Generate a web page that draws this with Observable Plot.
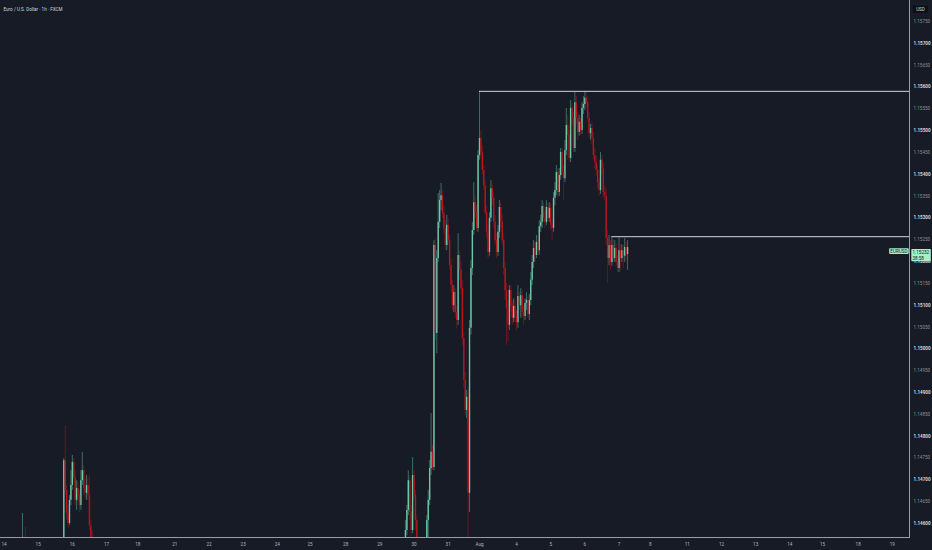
<!DOCTYPE html>
<html>
<head>
<meta charset="utf-8">
<script src="https://cdn.jsdelivr.net/npm/d3@7"></script>
<script src="https://cdn.jsdelivr.net/npm/@observablehq/plot@0.6"></script>
<style>
  html, body { margin: 0; padding: 0; background: #171b26; }
  #chart { width: 932px; height: 550px; overflow: hidden; }
</style>
</head>
<body>
<div id="chart"></div>
<script>
// EUR/USD 1h candles. x is the bar index in hours from Mon Jul 14 00:00 (weekend gaps squeezed out)
const title = "Euro / U.S. Dollar · 1h · FXCM";
const dayTicks = [0, 24, 48, 72, 94, 120, 144, 168, 192, 215, 240, 264, 288, 312, 334, 360, 384, 408, 432, 454, 480, 504, 528, 552, 575, 600, 624];
const dayLabels = ["14", "15", "16", "17", "18", "21", "22", "23", "24", "25", "28", "29", "30", "31", "Aug", "4", "5", "6", "7", "8", "11", "12", "13", "14", "15", "18", "19"];
const priceMajor = [1.146, 1.147, 1.148, 1.149, 1.150, 1.151, 1.152, 1.153, 1.154, 1.155, 1.156, 1.157];
const priceMinor = [1.1465, 1.1475, 1.1485, 1.1495, 1.1505, 1.1515, 1.1525, 1.1535, 1.1545, 1.1555, 1.1565, 1.1575];

// Jul 14 (only the tops of a couple of wicks show)
const jul14Start = 13, jul14Open = 1.14540;
const jul14Close = [1.14560, 1.14545, 1.14530];
const jul14High = [1.14623, 1.14555, 1.14591];
const jul14Low = [1.14500, 1.14520, 1.14510];

// Jul 15 evening - Jul 16
const jul15Start = 42, jul15Open = 1.14550;
const jul15Close = [1.14744, 1.14676, 1.14623, 1.14600, 1.14653, 1.14687, 1.14740, 1.14705, 1.14653, 1.14680, 1.14664, 1.14641, 1.14698, 1.14721, 1.14680, 1.14669, 1.14687, 1.14664, 1.14595, 1.14568, 1.14550, 1.14527];
const jul15High = [1.14749, 1.14824, 1.14687, 1.14641, 1.14664, 1.14721, 1.14756, 1.14749, 1.14721, 1.14698, 1.14694, 1.14676, 1.14721, 1.14763, 1.14733, 1.14703, 1.14710, 1.14703, 1.14710, 1.14607, 1.14584, 1.14568];
const jul15Low = [1.14550, 1.14664, 1.14607, 1.14589, 1.14595, 1.14641, 1.14676, 1.14694, 1.14641, 1.14630, 1.14648, 1.14625, 1.14630, 1.14687, 1.14664, 1.14657, 1.14653, 1.14653, 1.14584, 1.14550, 1.14527, 1.14515];

// Jul 29 late - Aug 7
const aug1Start = 282, aug1Open = 1.14550;
const aug1Close = [
  1.14584, 1.14630, 1.14698, 1.14625, 1.14584, 1.14710, 1.14664, 1.14607, 1.14550, 1.14515,
  1.14504, 1.14527, 1.14515, 1.14538, 1.14550, 1.14607, 1.14653, 1.14726, 1.14763, 1.14728,
  1.15237, 1.15035, 1.15207, 1.15290, 1.15340, 1.15351, 1.15310, 1.15276, 1.15237, 1.15283,
  1.15248, 1.15191, 1.15145, 1.15099, 1.15129, 1.15083, 1.15065, 1.15214, 1.15180, 1.15138,
  1.15024, 1.14928, 1.14859, 1.14889, 1.14669, 1.15047, 1.15184, 1.15271, 1.15335, 1.15312,
  1.15276, 1.15443, 1.15482, 1.15450, 1.15409, 1.15374, 1.15312, 1.15267, 1.15221, 1.15299,
  1.15367, 1.15345, 1.15290, 1.15248, 1.15221, 1.15267, 1.15324, 1.15290, 1.15248, 1.15184,
  1.15134, 1.15093, 1.15054, 1.15134, 1.15099, 1.15070, 1.15097, 1.15076, 1.15060, 1.15120,
  1.15099, 1.15122, 1.15083, 1.15074, 1.15104, 1.15111, 1.15079, 1.15111, 1.15157, 1.15198,
  1.15230, 1.15214, 1.15244, 1.15225, 1.15280, 1.15290, 1.15326, 1.15299, 1.15290, 1.15324,
  1.15299, 1.15322, 1.15283, 1.15276, 1.15345, 1.15363, 1.15404, 1.15358, 1.15397, 1.15450,
  1.15404, 1.15390, 1.15454, 1.15512, 1.15489, 1.15436, 1.15551, 1.15528, 1.15459, 1.15564,
  1.15528, 1.15496, 1.15519, 1.15500, 1.15551, 1.15560, 1.15574, 1.15564, 1.15528, 1.15493,
  1.15505, 1.15482, 1.15443, 1.15427, 1.15409, 1.15381, 1.15363, 1.15432, 1.15413, 1.15358,
  1.15351, 1.15253, 1.15207, 1.15237, 1.15198, 1.15237, 1.15207, 1.15230, 1.15198, 1.15184,
  1.15225, 1.15207, 1.15225, 1.15212, 1.15232, 1.15216, 1.15232
];
const aug1High = [
  1.14607, 1.14641, 1.14721, 1.14710, 1.14641, 1.14751, 1.14721, 1.14676, 1.14618, 1.14566,
  1.14550, 1.14538, 1.14538, 1.14550, 1.14566, 1.14618, 1.14676, 1.14744, 1.14852, 1.14779,
  1.15248, 1.15253, 1.15225, 1.15356, 1.15363, 1.15379, 1.15363, 1.15328, 1.15294, 1.15306,
  1.15299, 1.15260, 1.15207, 1.15157, 1.15145, 1.15138, 1.15099, 1.15264, 1.15225, 1.15198,
  1.15157, 1.15038, 1.14946, 1.14905, 1.14911, 1.15065, 1.15202, 1.15290, 1.15381, 1.15351,
  1.15328, 1.15454, 1.15590, 1.15500, 1.15466, 1.15420, 1.15386, 1.15328, 1.15283, 1.15312,
  1.15386, 1.15379, 1.15358, 1.15306, 1.15264, 1.15283, 1.15340, 1.15335, 1.15306, 1.15264,
  1.15198, 1.15150, 1.15111, 1.15145, 1.15145, 1.15111, 1.15115, 1.15111, 1.15088, 1.15145,
  1.15129, 1.15138, 1.15134, 1.15099, 1.15115, 1.15129, 1.15120, 1.15125, 1.15175, 1.15214,
  1.15248, 1.15244, 1.15260, 1.15257, 1.15294, 1.15306, 1.15340, 1.15335, 1.15317, 1.15340,
  1.15333, 1.15335, 1.15333, 1.15299, 1.15358, 1.15381, 1.15420, 1.15413, 1.15413, 1.15459,
  1.15459, 1.15420, 1.15477, 1.15551, 1.15535, 1.15500, 1.15569, 1.15562, 1.15542, 1.15587,
  1.15578, 1.15542, 1.15535, 1.15528, 1.15564, 1.15578, 1.15590, 1.15587, 1.15578, 1.15542,
  1.15514, 1.15519, 1.15496, 1.15459, 1.15441, 1.15420, 1.15390, 1.15450, 1.15443, 1.15427,
  1.15374, 1.15367, 1.15271, 1.15260, 1.15248, 1.15257, 1.15248, 1.15248, 1.15241, 1.15214,
  1.15255, 1.15237, 1.15239, 1.15237, 1.15253, 1.15244, 1.15248
];
const aug1Low = [
  1.14538, 1.14572, 1.14618, 1.14607, 1.14572, 1.14577, 1.14653, 1.14584, 1.14538, 1.14492,
  1.14481, 1.14492, 1.14504, 1.14504, 1.14527, 1.14538, 1.14561, 1.14641, 1.14710, 1.14721,
  1.14721, 1.15019, 1.14989, 1.15198, 1.15276, 1.15317, 1.15299, 1.15264, 1.15225, 1.15225,
  1.15237, 1.15180, 1.15129, 1.15088, 1.15083, 1.15070, 1.15047, 1.15054, 1.15157, 1.15122,
  1.15008, 1.14909, 1.14847, 1.14840, 1.14550, 1.14625, 1.15031, 1.15168, 1.15260, 1.15299,
  1.15267, 1.15267, 1.15432, 1.15436, 1.15397, 1.15363, 1.15306, 1.15253, 1.15207, 1.15212,
  1.15290, 1.15328, 1.15276, 1.15237, 1.15207, 1.15212, 1.15253, 1.15276, 1.15237, 1.15168,
  1.15111, 1.15008, 1.15015, 1.15042, 1.15083, 1.15054, 1.15060, 1.15060, 1.15042, 1.15047,
  1.15088, 1.15070, 1.15070, 1.15054, 1.15065, 1.15088, 1.15070, 1.15065, 1.15099, 1.15145,
  1.15184, 1.15198, 1.15207, 1.15214, 1.15214, 1.15267, 1.15276, 1.15290, 1.15276, 1.15283,
  1.15290, 1.15290, 1.15271, 1.15248, 1.15267, 1.15328, 1.15351, 1.15345, 1.15349, 1.15386,
  1.15390, 1.15340, 1.15381, 1.15443, 1.15432, 1.15427, 1.15427, 1.15512, 1.15450, 1.15450,
  1.15514, 1.15477, 1.15487, 1.15489, 1.15491, 1.15537, 1.15546, 1.15551, 1.15519, 1.15482,
  1.15477, 1.15466, 1.15432, 1.15413, 1.15395, 1.15367, 1.15349, 1.15354, 1.15397, 1.15345,
  1.15340, 1.15237, 1.15150, 1.15191, 1.15180, 1.15189, 1.15198, 1.15198, 1.15189, 1.15175,
  1.15175, 1.15180, 1.15198, 1.15184, 1.15198, 1.15202, 1.15180
];

// horizontal levels drawn on the chart, and the bar they start from
const levelPrices = [1.15590, 1.15257];
const levelFrom = [334, 427];

const symbol = "EURUSD";
const lastPrice = 1.15232;
const countdown = "38:58";

function makeBars(start, open, closes, highs, lows) {
  let o = open;
  return closes.map((c, k) => {
    const bar = {i: start + k, open: o, close: c, high: highs[k], low: lows[k]};
    o = c;
    return bar;
  });
}

const bars = [
  ...makeBars(jul14Start, jul14Open, jul14Close, jul14High, jul14Low),
  ...makeBars(jul15Start, jul15Open, jul15Close, jul15High, jul15Low),
  ...makeBars(aug1Start, aug1Open, aug1Close, aug1High, aug1Low)
];
const upBars = bars.filter(d => d.close >= d.open);
const downBars = bars.filter(d => d.close < d.open);
const levels = levelPrices.map((p, k) => ({price: p, from: levelFrom[k]}));
const dayName = new Map(dayTicks.map((t, k) => [t, dayLabels[k]]));

const upColor = "#6ec7a7";
const downColor = "#b8151d";
const xMax = 636.05;
const fs = 4.6;

const chart = Plot.plot({
  width: 932,
  height: 550,
  marginTop: 0,
  marginBottom: 13,
  marginLeft: 0,
  marginRight: 23,
  style: {background: "#171b26", color: "#b2b5be", fontFamily: "Roboto, 'DejaVu Sans', sans-serif"},
  x: {domain: [-2.46, xMax], axis: null},
  y: {domain: [1.145679, 1.157981], axis: null},
  marks: [
    Plot.ruleX(upBars, {x: "i", y1: "low", y2: "high", stroke: upColor, strokeOpacity: 0.6, strokeWidth: 0.8, clip: true}),
    Plot.ruleX(downBars, {x: "i", y1: "low", y2: "high", stroke: downColor, strokeOpacity: 0.6, strokeWidth: 0.8, clip: true}),
    Plot.ruleX(upBars, {x: "i", y1: "open", y2: "close", stroke: upColor, strokeWidth: 1.4, clip: true}),
    Plot.ruleX(downBars, {x: "i", y1: "open", y2: "close", stroke: downColor, strokeWidth: 1.4, clip: true}),
    Plot.ruleY(levels, {y: "price", x1: "from", x2: xMax, stroke: "#d1d4dc", strokeWidth: 1}),
    Plot.frame({anchor: "bottom", stroke: "#9a9da6"}),
    Plot.frame({anchor: "right", stroke: "#9a9da6"}),
    Plot.axisX({ticks: dayTicks, tickFormat: d => dayName.get(d), tickSize: 0, tickPadding: 5, fontSize: fs, fill: "#b2b5be"}),
    Plot.axisY({anchor: "right", ticks: priceMajor, tickFormat: d => d.toFixed(5), tickSize: 0, tickPadding: 4, fontSize: fs, fontWeight: "bold", fill: "#d1d4dc"}),
    Plot.axisY({anchor: "right", ticks: priceMinor, tickFormat: d => d.toFixed(5), tickSize: 0, tickPadding: 4, fontSize: fs, fill: "#8c9099"}),
    Plot.text([title], {text: d => d, frameAnchor: "top-left", dx: 3, dy: 7, textAnchor: "start", fontSize: fs, fill: "#d1d4dc"}),
    Plot.text(["USD"], {text: d => d, frameAnchor: "top-right", dx: 11, dy: 7, textAnchor: "middle", fontSize: fs, fill: "#d1d4dc", ariaLabel: () => "usd-tag"}),
    Plot.text([lastPrice], {y: d => d, text: d => d.toFixed(5) + "\n" + countdown, frameAnchor: "right", dx: 3, dy: 7, lineHeight: 1.35, textAnchor: "start", fontSize: fs, fill: "#131722", ariaLabel: () => "price-tag"}),
    Plot.text([lastPrice], {y: d => d, text: () => symbol, frameAnchor: "right", dx: -2, dy: 3.5, textAnchor: "end", fontSize: fs, fill: "#131722", ariaLabel: () => "symbol-tag"})
  ]
});

d3.select("#chart").append(() => chart);

// boxes behind the tags in the right margin, sized from the text itself
function boxBehind(label, fill, stroke, padX, padY) {
  chart.querySelectorAll(`text[aria-label="${label}"]`).forEach(t => {
    const b = t.getBBox();
    const rect = document.createElementNS("http://www.w3.org/2000/svg", "rect");
    rect.setAttribute("x", b.x - padX);
    rect.setAttribute("y", b.y - padY);
    rect.setAttribute("width", b.width + 2 * padX);
    rect.setAttribute("height", b.height + 2 * padY);
    rect.setAttribute("fill", fill);
    rect.setAttribute("stroke", stroke);
    rect.setAttribute("stroke-width", 0.6);
    rect.setAttribute("rx", 0.8);
    if (t.getAttribute("transform")) rect.setAttribute("transform", t.getAttribute("transform"));
    t.parentNode.insertBefore(rect, t);
  });
}
boxBehind("price-tag", "#a6efc9", "none", 1.2, 0.6);
boxBehind("symbol-tag", "#a6efc9", "none", 1.2, 0.3);
boxBehind("usd-tag", "#0d1018", "#2a2e39", 4, 2);
</script>
</body>
</html>
